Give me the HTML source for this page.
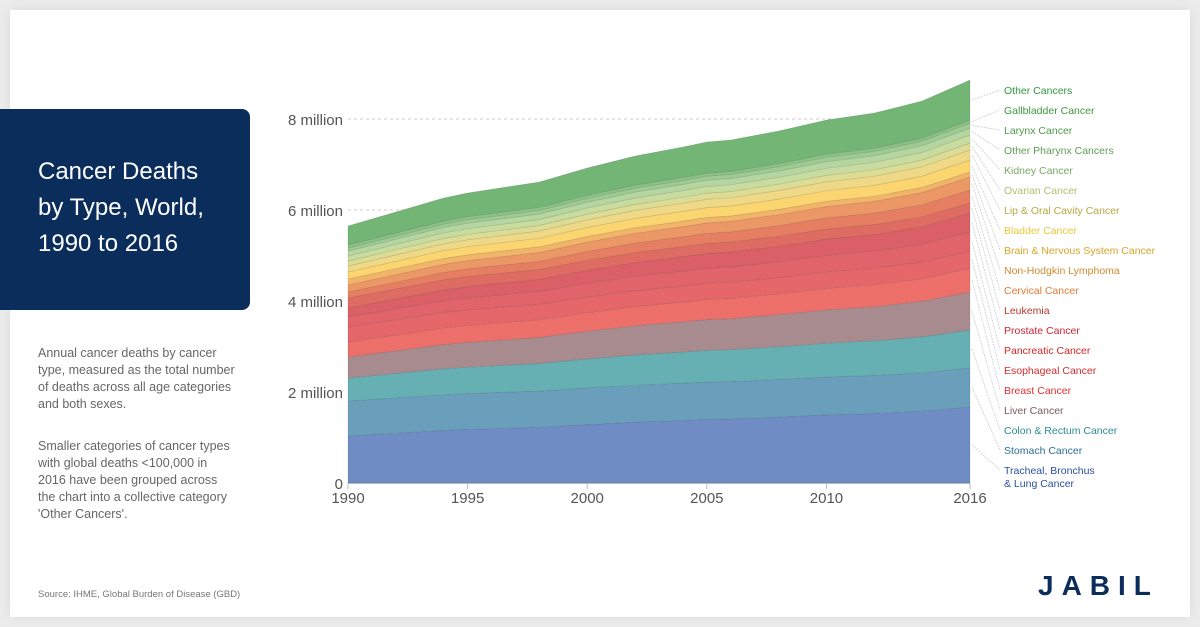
<!DOCTYPE html>
<html><head><meta charset="utf-8"><style>
body{margin:0;width:1200px;height:627px;background:#ececec;font-family:"Liberation Sans",sans-serif;overflow:hidden;position:relative}
.card{position:absolute;left:10px;top:10px;width:1180px;height:607px;background:#fff;box-shadow:0 0 12px rgba(0,0,0,.08)}
.title{position:absolute;left:0;top:109px;width:250px;height:201px;background:#0b2d5c;border-radius:0 8px 8px 0;color:#fff;font-size:24px;line-height:36px;padding:45px 0 0 38px;box-sizing:border-box}
.desc{position:absolute;left:38px;top:345px;width:230px;color:#666;font-size:12.5px;line-height:17px;white-space:nowrap}
.desc p{margin:0 0 25px 0}
.src{position:absolute;left:38px;top:589px;color:#777;font-size:9.5px}
.logo{position:absolute;left:1038px;top:570px;color:#0b2d5c;font-size:28px;font-weight:bold;letter-spacing:8px}
</style></head><body>
<div class="card"></div>
<div class="title">Cancer Deaths<br>by Type, World,<br>1990 to 2016</div>
<div class="desc"><p>Annual cancer deaths by cancer<br>type, measured as the total number<br>of deaths across all age categories<br>and both sexes.</p><p>Smaller categories of cancer types<br>with global deaths &lt;100,000 in<br>2016 have been grouped across<br>the chart into a collective category<br>'Other Cancers'.</p></div>
<div class="src">Source: IHME, Global Burden of Disease (GBD)</div>
<div class="logo">JABIL</div>
<svg id="s" width="1200" height="627" style="position:absolute;left:0;top:0"></svg>
<script>
(function(){
var NS="http://www.w3.org/2000/svg",s=document.getElementById('s');
function el(t,a,tx){var e=document.createElementNS(NS,t);for(var k in a)e.setAttribute(k,a[k]);if(tx)e.textContent=tx;s.appendChild(e);return e;}
var X=function(y){return 348+(y-1990)*(622/26)};
var tot=[[1990,226],[1992,212],[1994,198],[1995,193],[1998,182],[2000,168],[2002,156],[2004,147],[2005,142],[2006,140],[2008,131],[2010,120],[2012,113],[2014,101],[2016,80]];
var L=[["Tracheal, Bronchus",436,407,"#6f8cc4","#2c4f9e"],["Stomach Cancer",401,368,"#6a9fbc","#2e6e94"],["Colon & Rectum Cancer",378,330,"#66b0b4","#2a8e94"],["Liver Cancer",357,292,"#a78b8f","#7a5a5e"],["Breast Cancer",342,268,"#ec6f6a","#e03030"],["Esophageal Cancer",327,251,"#e5676a","#d62a2a"],["Pancreatic Cancer",317,232,"#e06469","#d42626"],["Prostate Cancer",308,213,"#db5f67","#cc2233"],["Leukemia",298,203,"#df6c63","#b8382a"],["Cervical Cancer",292,190,"#e67e62","#e27a36"],["Non-Hodgkin Lymphoma",285,177,"#eb9766","#d08a30"],["Brain & Nervous System Cancer",279,172,"#f2b468","#d9a428"],["Bladder Cancer",272,160,"#fbd56f","#e8c83a"],["Lip & Oral Cavity Cancer",266,150,"#efd886","#b8a840"],["Ovarian Cancer",261,143,"#dcdc95","#b0c070"],["Kidney Cancer",256,135,"#c9dca0","#7aa860"],["Other Pharynx Cancers",251,128,"#b5d6a0","#5e9e56"],["Larynx Cancer",248,123,"#9dcb92","#4e9a4a"],["Gallbladder Cancer",245,120,"#8cc285","#3e983e"],["Other Cancers",226,80,"#72b574","#2e9a3e"]];
[[0,483],[2,392],[4,301],[6,210],[8,119]].forEach(function(g){
 if(g[0]) el('line',{x1:348,x2:970,y1:g[1],y2:g[1],stroke:'#ccc','stroke-dasharray':'3,3'});
 el('text',{x:343,y:g[1]+6,'text-anchor':'end','font-size':15,fill:'#555','font-family':'Liberation Sans'},g[0]?g[0]+' million':'0');
});
function by(i,p){var l=L[i],f=(226-p[1])/146;return l[1]+(l[2]-l[1])*f;}
var prev=tot.map(function(p){return [X(p[0]),483]});
for(var i=0;i<L.length;i++){
 var cur=tot.map(function(p){return [X(p[0]),by(i,p)]});
 var d='M'+cur.map(function(q){return q[0].toFixed(1)+','+q[1].toFixed(1)}).join('L')+'L'+prev.slice().reverse().map(function(q){return q[0].toFixed(1)+','+q[1].toFixed(1)}).join('L')+'Z';
 el('path',{d:d,fill:L[i][3],stroke:'rgba(0,0,0,0.12)','stroke-width':0.7});
 prev=cur;
}
el('line',{x1:348,x2:970,y1:483.5,y2:483.5,stroke:'#bbb'});
[1990,1995,2000,2005,2010,2016].forEach(function(y){el('line',{x1:X(y),x2:X(y),y1:483,y2:489,stroke:'#bbb'});el('text',{x:X(y),y:503,'text-anchor':'middle','font-size':15,fill:'#555','font-family':'Liberation Sans'},y)});
for(var i=0;i<L.length;i++){
 var ly=474-i*20, tp=L[i][2], bt=i?L[i-1][2]:483, my=(tp+bt)/2;
 el('line',{x1:972,y1:my,x2:1000,y2:ly-4,stroke:'#ccc','stroke-width':0.8,'stroke-dasharray':'2,1'});
 el('text',{x:1004,y:ly,'font-size':10.5,fill:L[i][4],'font-family':'Liberation Sans'},L[i][0]);
}
el('text',{x:1004,y:487,'font-size':10.5,fill:'#2c4f9e','font-family':'Liberation Sans'},'& Lung Cancer');
})();
</script>
</body></html>
